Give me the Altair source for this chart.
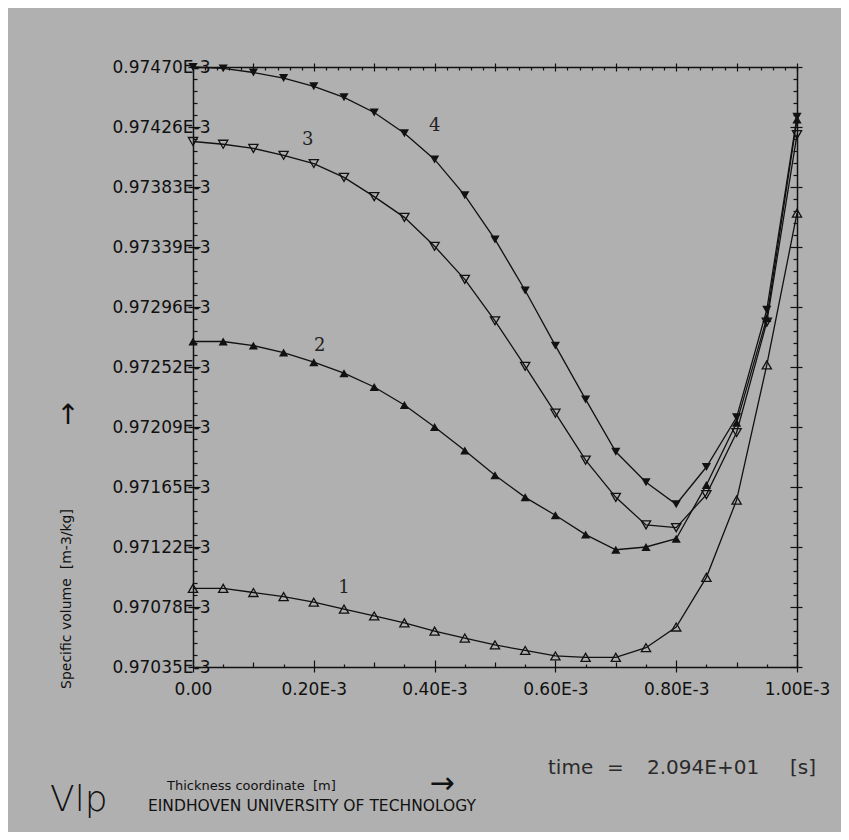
import json
import altair as alt
import pandas as pd

# ---------------- data ----------------
# thickness coordinate in units of 1E-3 m
x_vals = [0.00, 0.05, 0.10, 0.15, 0.20, 0.25, 0.30, 0.35, 0.40, 0.45, 0.50,
          0.55, 0.60, 0.65, 0.70, 0.75, 0.80, 0.85, 0.90, 0.95, 1.00]
# specific volume in units of 1E-3 m3/kg
s1 = [0.97092, 0.97092, 0.97089, 0.97086, 0.97082, 0.97077, 0.97072, 0.97067,
      0.97061, 0.97056, 0.97051, 0.97047, 0.97043, 0.97042, 0.97042, 0.97049,
      0.97064, 0.97100, 0.97156, 0.97254, 0.97364]
s2 = [0.97271, 0.97271, 0.97268, 0.97263, 0.97256, 0.97248, 0.97238, 0.97225,
      0.97209, 0.97192, 0.97174, 0.97158, 0.97145, 0.97131, 0.97120, 0.97122,
      0.97128, 0.97167, 0.97212, 0.97288, 0.97432]
s3 = [0.97416, 0.97414, 0.97411, 0.97406, 0.97400, 0.97390, 0.97376, 0.97361,
      0.97340, 0.97316, 0.97286, 0.97253, 0.97219, 0.97185, 0.97158, 0.97138,
      0.97136, 0.97160, 0.97205, 0.97285, 0.97421]
s4 = [0.97470, 0.97469, 0.97466, 0.97462, 0.97456, 0.97448, 0.97437, 0.97422,
      0.97403, 0.97377, 0.97345, 0.97308, 0.97268, 0.97229, 0.97191, 0.97169,
      0.97153, 0.97180, 0.97216, 0.97294, 0.97434]

curve_names = ["1", "2", "3", "4"]
curve_label_x = [0.25, 0.21, 0.19, 0.40]
curve_label_v = [0.97092, 0.97268, 0.97417, 0.97427]

x_tick_values = [0.0, 0.2, 0.4, 0.6, 0.8, 1.0]
x_tick_labels = ["0.00", "0.20E-3", "0.40E-3", "0.60E-3", "0.80E-3", "1.00E-3"]
y_min, y_step = 0.97035, 0.000435
y_tick_labels = ["0.97035E-3", "0.97078E-3", "0.97122E-3", "0.97165E-3",
                 "0.97209E-3", "0.97252E-3", "0.97296E-3", "0.97339E-3",
                 "0.97383E-3", "0.97426E-3", "0.97470E-3"]
y_tick_values = [round(y_min + i * y_step, 6) for i in range(11)]
y_minor_values = [round(y_min + i * y_step / 5, 7) for i in range(51)]
x_minor_05 = [round(i * 0.05, 3) for i in range(21)]
x_minor_02 = [round(i * 0.02, 3) for i in range(51)]
x_tenth = [round(i * 0.1, 2) for i in range(11)]

df = pd.DataFrame({
    "x": x_vals * 4,
    "v": s1 + s2 + s3 + s4,
    "series": ["1"] * 21 + ["2"] * 21 + ["3"] * 21 + ["4"] * 21,
})
df_lab = pd.DataFrame({"x": curve_label_x, "v": curve_label_v, "t": curve_names})

# ---------------- styling ----------------
W, H = 604, 600
INK = "#111111"
BG = "#b0b0b0"
FONT = "DejaVu Sans"
NB = "\u00a0"


def xs():
    return alt.Scale(domain=[0.0, 1.0], nice=False, zero=False)


def ys():
    return alt.Scale(domain=[y_tick_values[0], y_tick_values[-1]], nice=False, zero=False)


common = dict(title=None, grid=False, tickColor=INK, domainColor=INK,
              tickWidth=1.2, domainWidth=1.5)

x_lab_expr = json.dumps(x_tick_labels) + "[round(datum.value/0.2)]"
y_lab_expr = json.dumps(y_tick_labels) + f"[round((datum.value-{y_min})/{y_step})]"

is02 = "abs(datum.value/0.2 - round(datum.value/0.2)) < 0.001"
is01 = "abs(datum.value/0.1 - round(datum.value/0.1)) < 0.001"
isYmaj = f"abs((datum.value-{y_min})/{y_step} - round((datum.value-{y_min})/{y_step})) < 0.001"

# bottom axis with labels, outward major ticks
ax_bottom = alt.Axis(orient="bottom", values=x_tick_values, tickSize=5,
                     labelExpr=x_lab_expr, labelFont=FONT, labelFontSize=17,
                     labelColor=INK, labelPadding=9, labelFlush=False,
                     labelOverlap=False, domain=True, **common)
ax_left = alt.Axis(orient="left", values=y_tick_values, tickSize=5,
                   labelExpr=y_lab_expr, labelFont=FONT, labelFontSize=17,
                   labelColor=INK, labelPadding=-22, labelAlign="right",
                   labelBaseline="middle", labelFlush=False, labelOverlap=False,
                   domain=True, **common)
# inward ticks on bottom line (top-oriented axis moved down)
ax_bottom_in = alt.Axis(orient="top", offset=-H, values=x_minor_05, labels=False,
                        domain=False,
                        tickSize={"condition": [{"test": is02, "value": 7},
                                                {"test": is01, "value": 5}],
                                  "value": 3}, **common)
# inward ticks on left line (right-oriented axis moved left)
ax_left_in = alt.Axis(orient="right", offset=-W, values=y_minor_values, labels=False,
                      domain=False,
                      tickSize={"condition": {"test": isYmaj, "value": 7}, "value": 4},
                      **common)
# top and right frame with outward ticks
ax_top = alt.Axis(orient="top", values=x_tenth, labels=False, domain=True,
                  tickSize=4, **common)
ax_right = alt.Axis(orient="right", values=y_tick_values, labels=False, domain=True,
                    tickSize=5, **common)
# inward ticks on top line and right line
ax_top_in = alt.Axis(orient="bottom", offset=-H, values=x_minor_02, labels=False,
                     domain=False,
                     tickSize={"condition": {"test": is01, "value": 4}, "value": 3},
                     **common)
ax_right_in = alt.Axis(orient="left", offset=-W, values=y_minor_values, labels=False,
                       domain=False,
                       tickSize={"condition": {"test": isYmaj, "value": 7}, "value": 4},
                       **common)

base = alt.Chart(df)

lines = base.mark_line(color=INK, strokeWidth=1.3).encode(
    x=alt.X("x:Q", scale=xs(), axis=ax_bottom),
    y=alt.Y("v:Q", scale=ys(), axis=ax_left),
    detail="series:N",
)

m4 = base.transform_filter("datum.series == '4'").mark_point(
    shape="triangle-down", filled=True, size=85, color=INK, opacity=1
).encode(x=alt.X("x:Q", scale=xs(), axis=ax_bottom_in),
         y=alt.Y("v:Q", scale=ys(), axis=ax_left_in))

m3 = base.transform_filter("datum.series == '3'").mark_point(
    shape="triangle-down", filled=False, size=85, color=INK, strokeWidth=1.3, opacity=1
).encode(x=alt.X("x:Q", scale=xs(), axis=ax_top),
         y=alt.Y("v:Q", scale=ys(), axis=ax_right))

m2 = base.transform_filter("datum.series == '2'").mark_point(
    shape="triangle-up", filled=True, size=85, color=INK, opacity=1
).encode(x=alt.X("x:Q", scale=xs(), axis=ax_top_in),
         y=alt.Y("v:Q", scale=ys(), axis=ax_right_in))

m1 = base.transform_filter("datum.series == '1'").mark_point(
    shape="triangle-up", filled=False, size=85, color=INK, strokeWidth=1.3, opacity=1
).encode(x=alt.X("x:Q", scale=xs(), axis=None),
         y=alt.Y("v:Q", scale=ys(), axis=None))

labels = alt.Chart(df_lab).mark_text(
    font="DejaVu Serif", fontSize=18, color="#222222"
).encode(x=alt.X("x:Q", scale=xs(), axis=None),
         y=alt.Y("v:Q", scale=ys(), axis=None),
         text="t:N")

one = pd.DataFrame({"a": [0]})


def note(text, x, y, size, align="left", baseline="middle", angle=0,
         color=INK, weight="normal", font=FONT):
    kw = dict(text=text, fontSize=size, align=align, baseline=baseline,
              color=color, fontWeight=weight, font=font)
    if angle:
        kw["angle"] = angle
    return alt.Chart(one).mark_text(**kw).encode(x=alt.value(x), y=alt.value(y))


notes = [
    note(f"Specific volume{NB}{NB}[m-3/kg]", -126, 532, 14, align="center", angle=270),
    note("\u2191", -125, 349, 28, align="center"),
    note(f"Thickness coordinate{NB}{NB}[m]", -26, 719, 13),
    note("\u2192", 249, 717, 30, align="center"),
    note("EINDHOVEN UNIVERSITY OF TECHNOLOGY", -45, 739, 15.5),
    note("Vlp", -143, 744, 36, baseline="alphabetic", weight=200),
    note("time", 355, 707, 20, baseline="alphabetic", color="#2a2a2a"),
    note("=", 414, 707, 20, baseline="alphabetic", color="#2a2a2a"),
    note("2.094E+01", 454, 707, 20, baseline="alphabetic", color="#2a2a2a"),
    note("[s]", 597, 707, 20, baseline="alphabetic", color="#2a2a2a"),
]

chart = alt.layer(lines, m4, m3, m2, m1, labels, *notes).resolve_scale(
    x="independent", y="independent"
).resolve_axis(
    x="independent", y="independent"
).properties(
    width=W, height=H,
    autosize=alt.AutoSizeParams(type="none"),
    padding={"left": 185, "top": 59, "right": 44, "bottom": 165},
    background=BG,
).configure_view(strokeWidth=0)

chart.save("out.html", embed_options={"renderer": "svg", "actions": False})
